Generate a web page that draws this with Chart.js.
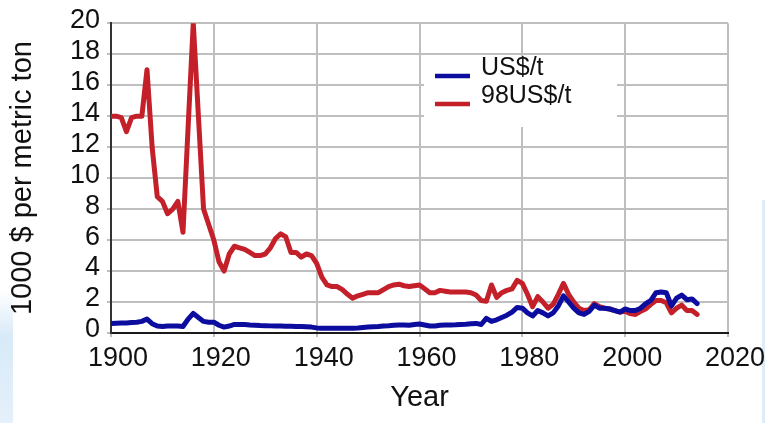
<!DOCTYPE html>
<html>
<head>
<meta charset="utf-8">
<script src="https://cdn.jsdelivr.net/npm/chart.js@4"></script>
<style>
html,body{margin:0;padding:0;background:#fff;}
#wrap{position:relative;width:765px;height:423px;overflow:hidden;}
#lb{position:absolute;left:0;top:290px;width:13px;height:133px;background:linear-gradient(to bottom,rgba(214,234,248,0),#d8eaf8 35%,#e4f0fa);}
#rb{position:absolute;left:762px;top:200px;width:3px;height:223px;background:#dcecf8;}
canvas{position:absolute;left:0;top:0;}
</style>
</head>
<body>
<div id="wrap">
<div id="lb"></div><div id="rb"></div>
<canvas id="c" width="765" height="423"></canvas>
</div>
<script>
const years = [
1900,1901,1902,1903,1904,1905,1906,1907,1908,1909,
1910,1911,1912,1913,1914,1915,1916,1917,1918,1919,
1920,1921,1922,1923,1924,1925,1926,1927,1928,1929,
1930,1931,1932,1933,1934,1935,1936,1937,1938,1939,
1940,1941,1942,1943,1944,1945,1946,1947,1948,1949,
1950,1951,1952,1953,1954,1955,1956,1957,1958,1959,
1960,1961,1962,1963,1964,1965,1966,1967,1968,1969,
1970,1971,1972,1973,1974,1975,1976,1977,1978,1979,
1980,1981,1982,1983,1984,1985,1986,1987,1988,1989,
1990,1991,1992,1993,1994,1995,1996,1997,1998,1999,
2000,2001,2002,2003,2004,2005,2006,2007,2008,2009,
2010,2011,2012,2013,2014];

const usd = [
0.62,0.63,0.64,0.65,0.68,0.70,0.75,0.90,0.60,0.45,
0.42,0.45,0.45,0.45,0.42,0.90,1.27,1.00,0.75,0.70,
0.70,0.50,0.38,0.45,0.55,0.55,0.55,0.52,0.50,0.48,
0.47,0.46,0.45,0.45,0.44,0.43,0.42,0.42,0.40,0.38,
0.33,0.30,0.30,0.30,0.30,0.30,0.30,0.30,0.32,0.35,
0.38,0.40,0.42,0.45,0.47,0.50,0.52,0.52,0.50,0.55,
0.58,0.52,0.45,0.45,0.50,0.52,0.52,0.53,0.55,0.57,
0.60,0.62,0.55,0.95,0.75,0.85,1.00,1.15,1.35,1.65,
1.60,1.30,1.10,1.45,1.30,1.10,1.30,1.75,2.40,2.00,
1.60,1.30,1.20,1.40,1.80,1.60,1.60,1.55,1.45,1.35,
1.55,1.45,1.45,1.60,1.90,2.10,2.60,2.65,2.60,1.75,
2.25,2.45,2.15,2.20,1.90];

const usd98 = [
14.0,14.0,13.9,13.0,13.9,14.0,14.0,17.0,12.0,8.8,
8.5,7.7,8.0,8.5,6.5,13.3,20.0,14.0,8.0,7.0,
6.0,4.6,4.0,5.1,5.6,5.5,5.4,5.2,5.0,5.0,
5.1,5.5,6.1,6.4,6.2,5.2,5.2,4.9,5.1,5.0,
4.5,3.6,3.1,3.0,3.0,2.8,2.5,2.25,2.4,2.5,
2.6,2.6,2.6,2.8,3.0,3.1,3.15,3.05,3.0,3.05,
3.1,2.85,2.6,2.6,2.75,2.7,2.65,2.65,2.65,2.65,
2.6,2.45,2.1,2.05,3.1,2.3,2.6,2.75,2.85,3.4,
3.2,2.5,1.7,2.35,2.0,1.6,1.85,2.5,3.2,2.5,
2.0,1.6,1.45,1.5,1.9,1.7,1.6,1.55,1.45,1.35,
1.4,1.25,1.2,1.4,1.55,1.85,2.1,2.1,1.95,1.3,
1.6,1.8,1.45,1.45,1.2];

const seriesNames = ['US$/t', '98US$/t'];
const xTickMin = 1900, xTickMax = 2020, xStep = 20;
const yTickMin = 0, yTickMax = 20, yStep = 2;

const BLUE = '#0c0c9e';
const RED = '#c4202a';
const FONT = '"Liberation Sans", Arial, sans-serif';

const legendPlugin = {
  id: 'customLegend',
  afterDraw(chart) {
    const ctx = chart.ctx;
    ctx.save();
    ctx.fillStyle = '#ffffff';
    ctx.fillRect(424, 57, 193, 70);
    const items = chart.data.datasets;
    items.forEach((ds, i) => {
      const ly = 76 + i * 28;
      ctx.strokeStyle = ds.borderColor;
      ctx.lineWidth = 4.5;
      ctx.lineCap = 'butt';
      ctx.beginPath();
      ctx.moveTo(435, ly);
      ctx.lineTo(470, ly);
      ctx.stroke();
      ctx.fillStyle = '#111';
      ctx.font = '25px ' + FONT;
      ctx.textBaseline = 'alphabetic';
      ctx.textAlign = 'left';
      ctx.fillText(ds.label, 481, 75 + i * 28);
    });
    ctx.restore();
  }
};

new Chart(document.getElementById('c'), {
  type: 'line',
  data: {
    datasets: [
      { label: seriesNames[0], data: years.map((y, i) => ({x: y, y: usd[i]})),
        borderColor: BLUE, backgroundColor: BLUE, borderWidth: 5, pointRadius: 0,
        tension: 0, borderJoinStyle: 'round', borderCapStyle: 'round', fill: false },
      { label: seriesNames[1], data: years.map((y, i) => ({x: y, y: usd98[i]})),
        borderColor: RED, backgroundColor: RED, borderWidth: 5, pointRadius: 0,
        tension: 0, borderJoinStyle: 'round', borderCapStyle: 'round', fill: false }
    ]
  },
  options: {
    responsive: false,
    animation: false,
    layout: { padding: { top: 23, right: 37, left: 0, bottom: 0 } },
    plugins: { legend: { display: false }, tooltip: { enabled: false } },
    scales: {
      x: {
        type: 'linear', min: xTickMin, max: xTickMax,
        afterFit: s => { s.height = 90; },
        ticks: { stepSize: xStep, autoSkip: false, color: '#111', font: { family: FONT, size: 27 }, padding: 5, maxRotation: 0,
                 labelOffset: 7, callback: v => String(v) },
        grid: { color: '#bfbfbf', lineWidth: 2, tickLength: 4 },
        border: { color: '#1a1a1a', width: 2 },
        title: { display: true, text: 'Year', color: '#111', font: { family: FONT, size: 29 }, padding: { top: 0, bottom: 7.5 } }
      },
      y: {
        min: yTickMin, max: yTickMax,
        afterFit: s => { s.width = 111; },
        ticks: { stepSize: yStep, autoSkip: false, color: '#111', font: { family: FONT, size: 27 }, padding: 7, labelOffset: -3 },
        grid: { color: '#bfbfbf', lineWidth: 2, tickLength: 4 },
        border: { color: '#333', width: 2 },
        title: { display: true, text: '1000 $ per metric ton', color: '#111', font: { family: FONT, size: 29 }, padding: { top: 5.5, bottom: 0 } }
      }
    }
  },
  plugins: [legendPlugin]
});
</script>
</body>
</html>
